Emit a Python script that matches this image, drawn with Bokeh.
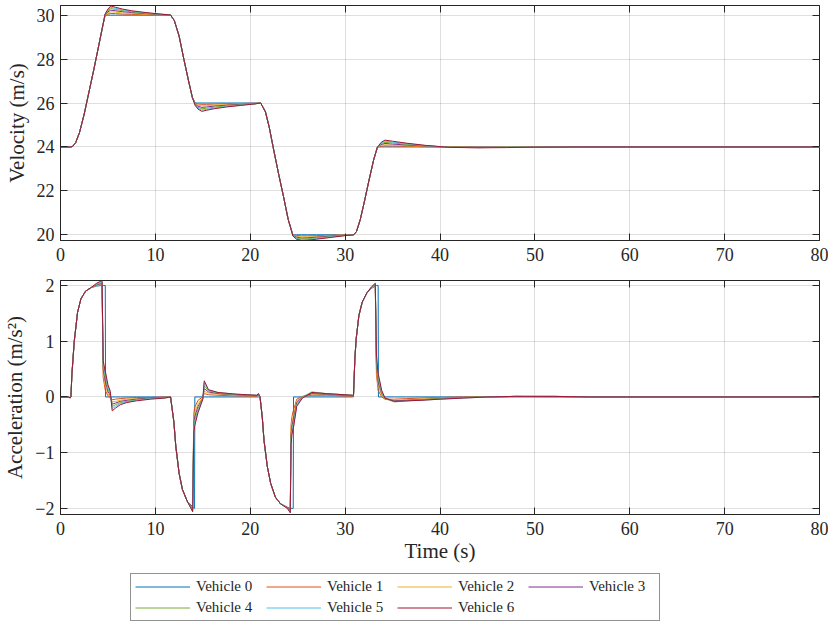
from bokeh.plotting import figure
from bokeh.models import (Legend, LegendItem, LinearAxis, FixedTicker, Range1d,
                          CustomJSTickFormatter)
from bokeh.layouts import column
from bokeh.embed import file_html
from bokeh.resources import INLINE

# ---------------- data ----------------
NAMES = ["Vehicle 0", "Vehicle 1", "Vehicle 2", "Vehicle 3", "Vehicle 4", "Vehicle 5", "Vehicle 6"]
COLORS = ["#0072BD", "#D95319", "#EDB120", "#7E2F8E", "#77AC30", "#4DBEEE", "#A2142F"]

X_TICKS = [0, 10, 20, 30, 40, 50, 60, 70, 80]
V_TICKS = [20, 22, 24, 26, 28, 30]
A_TICKS = [-2, -1, 0, 1, 2]

# time samples for velocity (s)
T_VEL = [0, 1.1, 1.3, 1.6, 2.0, 2.5, 3.0, 3.5, 4.0, 4.4,
         4.7, 5.0, 5.3, 5.8, 6.5, 7.5, 9.0, 10.5, 11.6, 12.0,
         12.5, 13.0, 13.5, 13.9, 14.2, 14.5, 14.9, 15.4, 16.2, 17.5,
         19.0, 20.5, 21.1, 21.6, 22.0, 22.5, 23.0, 23.5, 24.0, 24.5,
         24.9, 25.4, 26.0, 27.0, 28.5, 30.0, 30.9, 31.2, 31.6, 32.0,
         32.5, 33.0, 33.4, 33.8, 34.2, 35.0, 36.5, 38.5, 41.0, 44.0,
         47.0, 50.0, 55.0, 80.0]

V0 = [24.0, 24.0, 24.03, 24.2, 24.65, 25.5, 26.5, 27.5, 28.55, 29.4,
      30.0, 30.0, 30.0, 30.0, 30.0, 30.0, 30.0, 30.0, 30.0, 29.75,
      29.05, 28.0, 27.0, 26.25, 26.0, 26.0, 26.0, 26.0, 26.0, 26.0,
      26.0, 26.0, 26.0, 25.6, 24.9, 23.8, 22.75, 21.75, 20.7, 20.0,
      20.0, 20.0, 20.0, 20.0, 20.0, 20.0, 20.0, 20.15, 20.7, 21.45,
      22.45, 23.4, 24.0, 24.0, 24.0, 24.0, 24.0, 24.0, 24.0, 24.0,
      24.0, 24.0, 24.0, 24.0]
V1 = [24.0, 24.0, 24.03, 24.2, 24.65, 25.5, 26.5, 27.5, 28.55, 29.4,
      29.98, 30.05, 30.08, 30.07, 30.05, 30.04, 30.02, 30.01, 30.0, 29.75,
      29.05, 28.0, 27.0, 26.25, 25.98, 25.95, 25.94, 25.94, 25.95, 25.97,
      25.98, 25.99, 26.0, 25.6, 24.9, 23.8, 22.75, 21.75, 20.7, 19.99,
      19.97, 19.95, 19.95, 19.96, 19.98, 19.99, 20.0, 20.15, 20.7, 21.45,
      22.45, 23.4, 23.99, 24.03, 24.05, 24.04, 24.03, 24.01, 24.0, 23.99,
      23.99, 24.0, 24.0, 24.0]
V2 = [24.0, 24.0, 24.03, 24.2, 24.65, 25.5, 26.5, 27.5, 28.55, 29.4,
      30.0, 30.1, 30.15, 30.14, 30.1, 30.08, 30.04, 30.02, 30.0, 29.75,
      29.05, 28.0, 27.0, 26.25, 25.96, 25.9, 25.87, 25.88, 25.9, 25.93,
      25.96, 25.98, 26.0, 25.6, 24.9, 23.8, 22.75, 21.75, 20.7, 19.98,
      19.93, 19.9, 19.9, 19.92, 19.96, 19.99, 20.0, 20.15, 20.7, 21.45,
      22.45, 23.4, 23.99, 24.07, 24.1, 24.08, 24.06, 24.03, 24.0, 23.98,
      23.99, 24.0, 24.0, 24.0]
V3 = [24.0, 24.0, 24.03, 24.2, 24.65, 25.5, 26.5, 27.5, 28.55, 29.4,
      30.02, 30.15, 30.23, 30.2, 30.16, 30.12, 30.07, 30.03, 30.0, 29.75,
      29.05, 28.0, 27.0, 26.25, 25.94, 25.85, 25.8, 25.82, 25.86, 25.9,
      25.94, 25.97, 26.0, 25.6, 24.9, 23.8, 22.75, 21.75, 20.7, 19.97,
      19.89, 19.85, 19.86, 19.89, 19.94, 19.98, 20.0, 20.15, 20.7, 21.45,
      22.45, 23.4, 23.99, 24.11, 24.16, 24.13, 24.09, 24.04, 23.99, 23.98,
      23.98, 23.99, 24.0, 24.0]
V4 = [24.0, 24.0, 24.03, 24.2, 24.65, 25.5, 26.5, 27.5, 28.55, 29.4,
      30.03, 30.2, 30.3, 30.26, 30.21, 30.15, 30.09, 30.04, 30.01, 29.75,
      29.05, 28.0, 27.0, 26.25, 25.92, 25.8, 25.74, 25.76, 25.81, 25.87,
      25.92, 25.97, 26.0, 25.6, 24.9, 23.8, 22.75, 21.75, 20.7, 19.96,
      19.85, 19.81, 19.82, 19.86, 19.92, 19.97, 20.0, 20.15, 20.7, 21.45,
      22.45, 23.4, 23.98, 24.15, 24.21, 24.18, 24.12, 24.05, 23.99, 23.97,
      23.98, 23.99, 24.0, 24.0]
V5 = [24.0, 24.0, 24.03, 24.2, 24.65, 25.5, 26.5, 27.5, 28.55, 29.4,
      30.04, 30.24, 30.36, 30.31, 30.25, 30.18, 30.1, 30.05, 30.01, 29.75,
      29.05, 28.0, 27.0, 26.25, 25.9, 25.76, 25.68, 25.71, 25.77, 25.84,
      25.9, 25.96, 26.0, 25.6, 24.9, 23.8, 22.75, 21.75, 20.7, 19.95,
      19.82, 19.77, 19.78, 19.83, 19.9, 19.97, 20.0, 20.15, 20.7, 21.45,
      22.45, 23.4, 23.98, 24.18, 24.26, 24.22, 24.15, 24.06, 23.98, 23.97,
      23.98, 23.99, 24.0, 24.0]
V6 = [24.0, 24.0, 24.03, 24.2, 24.65, 25.5, 26.5, 27.5, 28.55, 29.4,
      30.05, 30.28, 30.42, 30.36, 30.28, 30.2, 30.12, 30.05, 30.01, 29.75,
      29.05, 28.0, 27.0, 26.25, 25.88, 25.72, 25.62, 25.67, 25.74, 25.82,
      25.89, 25.96, 26.0, 25.6, 24.9, 23.8, 22.75, 21.75, 20.7, 19.94,
      19.79, 19.74, 19.75, 19.8, 19.88, 19.96, 20.0, 20.15, 20.7, 21.45,
      22.45, 23.4, 23.98, 24.21, 24.31, 24.26, 24.17, 24.07, 23.98, 23.96,
      23.97, 23.99, 24.0, 24.0]

# time samples for acceleration (s)
T_ACC = [0, 0.9, 1.0, 1.1, 1.2, 1.45, 1.8, 2.15, 2.65, 3.2,
         3.8, 4.38, 4.5, 4.72, 4.75, 5.0, 5.25, 5.45, 5.8, 6.3,
         7.0, 8.0, 9.5, 11.0, 11.6, 11.95, 12.15, 12.5, 12.85, 13.35,
         13.93, 14.05, 14.13, 14.16, 14.5, 14.9, 15.0, 15.15, 15.6, 16.6,
         18.5, 20.7, 20.86, 21.03, 21.27, 21.45, 21.8, 22.15, 22.65, 23.2,
         23.9, 24.22, 24.3, 24.4, 24.53, 24.56, 24.9, 25.5, 26.5, 28.0,
         30.8, 30.88, 31.03, 31.17, 31.45, 31.8, 32.3, 32.8, 33.18, 33.3,
         33.48, 33.51, 33.85, 34.2, 35.2, 36.5, 38.0, 40.0, 42.5, 45.0,
         48.0, 52.0, 56.0, 80.0]

A0 = [0, 0, -0.02, 0.0, 0.4, 1.0, 1.52, 1.76, 1.9, 1.96,
      1.99, 2.0, 2.0, 2.0, 0.0, 0, 0, 0, 0, 0,
      0, 0, 0, 0, 0, -0.45, -0.88, -1.37, -1.66, -1.87,
      -1.97, -1.99, -2.0, 0.0, 0, 0, 0, 0, 0, 0,
      0, 0, 0, 0, -0.37, -0.78, -1.25, -1.55, -1.8, -1.92,
      -1.98, -2.0, -2.0, -2.0, -2.0, 0.0, 0, 0, 0, 0,
      0, 0, 0.7, 1.05, 1.46, 1.7, 1.87, 1.95, 1.99, 2.0,
      2.0, 0.0, 0, 0, 0, 0, 0, 0, 0, 0,
      0, 0, 0, 0]
A1 = [0, 0, -0.02, 0.0, 0.4, 1.0, 1.52, 1.76, 1.9, 1.96,
      2.0, 2.01, 0.35, 0.12, 0.11, 0.02, -0.01, -0.05, -0.04, -0.03,
      -0.02, -0.01, -0.01, 0.0, 0.0, -0.45, -0.88, -1.37, -1.66, -1.87,
      -1.99, -0.3, -0.2, -0.18, -0.06, -0.01, 0.0, 0.06, 0.04, 0.03,
      0.02, 0.01, 0.04, 0.0, -0.37, -0.78, -1.25, -1.55, -1.8, -1.92,
      -1.98, -2.01, -0.5, -0.35, -0.25, -0.24, -0.04, 0.01, 0.03, 0.03,
      0.01, 0.01, 0.7, 1.05, 1.46, 1.7, 1.87, 1.96, 2.0, 0.4,
      0.12, 0.11, 0.0, -0.04, -0.04, -0.03, -0.02, -0.01, 0.0, 0.0,
      0.01, 0.0, 0.0, 0.0]
A2 = [0, 0, -0.02, 0.0, 0.4, 1.0, 1.52, 1.76, 1.9, 1.96,
      2.0, 2.02, 0.45, 0.2, 0.19, 0.06, 0.01, -0.09, -0.08, -0.06,
      -0.04, -0.03, -0.02, -0.01, 0.0, -0.45, -0.88, -1.37, -1.66, -1.87,
      -2.0, -0.4, -0.3, -0.28, -0.12, -0.03, -0.01, 0.1, 0.07, 0.05,
      0.03, 0.02, 0.05, 0.0, -0.37, -0.78, -1.25, -1.55, -1.8, -1.92,
      -1.98, -2.03, -0.6, -0.45, -0.34, -0.33, -0.07, 0.01, 0.05, 0.04,
      0.02, 0.02, 0.7, 1.05, 1.46, 1.7, 1.87, 1.96, 2.01, 0.5,
      0.2, 0.19, 0.03, -0.04, -0.06, -0.05, -0.04, -0.02, -0.01, 0.0,
      0.01, 0.0, 0.0, 0.0]
A3 = [0, 0, -0.02, 0.0, 0.4, 1.0, 1.52, 1.76, 1.9, 1.96,
      2.01, 2.04, 0.5, 0.28, 0.27, 0.1, 0.03, -0.13, -0.11, -0.08,
      -0.06, -0.04, -0.02, -0.01, 0.0, -0.45, -0.88, -1.37, -1.66, -1.87,
      -2.02, -0.47, -0.37, -0.35, -0.17, -0.05, -0.02, 0.15, 0.09, 0.06,
      0.04, 0.02, 0.05, 0.0, -0.37, -0.78, -1.25, -1.55, -1.8, -1.92,
      -1.98, -2.04, -0.68, -0.52, -0.41, -0.4, -0.1, 0.0, 0.06, 0.05,
      0.02, 0.02, 0.7, 1.05, 1.46, 1.7, 1.87, 1.97, 2.02, 0.58,
      0.27, 0.26, 0.06, -0.03, -0.07, -0.06, -0.05, -0.03, -0.01, 0.0,
      0.01, 0.01, 0.0, 0.0]
A4 = [0, 0, -0.02, 0.0, 0.4, 1.0, 1.52, 1.76, 1.9, 1.96,
      2.02, 2.05, 0.55, 0.34, 0.33, 0.14, 0.05, -0.17, -0.14, -0.1,
      -0.08, -0.05, -0.03, -0.01, 0.0, -0.45, -0.88, -1.37, -1.66, -1.87,
      -2.03, -0.53, -0.43, -0.41, -0.21, -0.06, -0.03, 0.2, 0.11, 0.07,
      0.04, 0.03, 0.06, 0.0, -0.37, -0.78, -1.25, -1.55, -1.8, -1.92,
      -1.99, -2.05, -0.74, -0.58, -0.47, -0.46, -0.13, 0.0, 0.09, 0.06,
      0.03, 0.03, 0.7, 1.05, 1.46, 1.7, 1.87, 1.97, 2.03, 0.65,
      0.32, 0.31, 0.08, -0.03, -0.09, -0.07, -0.05, -0.03, -0.01, 0.0,
      0.01, 0.01, 0.0, 0.0]
A5 = [0, 0, -0.02, 0.0, 0.4, 1.0, 1.52, 1.76, 1.9, 1.96,
      2.03, 2.07, 0.6, 0.4, 0.39, 0.18, 0.07, -0.21, -0.17, -0.12,
      -0.09, -0.06, -0.03, -0.02, 0.0, -0.45, -0.88, -1.37, -1.66, -1.87,
      -2.05, -0.58, -0.48, -0.46, -0.25, -0.08, -0.03, 0.25, 0.12, 0.08,
      0.05, 0.03, 0.06, 0.0, -0.37, -0.78, -1.25, -1.55, -1.8, -1.92,
      -1.99, -2.07, -0.8, -0.63, -0.52, -0.51, -0.15, -0.01, 0.08, 0.06,
      0.03, 0.03, 0.7, 1.05, 1.46, 1.7, 1.87, 1.98, 2.03, 0.7,
      0.37, 0.36, 0.1, -0.02, -0.08, -0.07, -0.06, -0.04, -0.02, 0.0,
      0.01, 0.01, 0.0, 0.0]
A6 = [0, 0, -0.02, 0.0, 0.4, 1.0, 1.52, 1.76, 1.9, 1.96,
      2.04, 2.09, 0.65, 0.45, 0.44, 0.22, 0.1, -0.25, -0.2, -0.14,
      -0.1, -0.07, -0.04, -0.02, 0.0, -0.45, -0.88, -1.37, -1.66, -1.87,
      -2.06, -0.63, -0.53, -0.51, -0.28, -0.09, -0.04, 0.29, 0.13, 0.08,
      0.05, 0.03, 0.06, 0.0, -0.37, -0.78, -1.25, -1.55, -1.8, -1.92,
      -2.0, -2.08, -0.85, -0.67, -0.56, -0.55, -0.17, -0.02, 0.08, 0.06,
      0.03, 0.03, 0.7, 1.05, 1.46, 1.7, 1.87, 1.98, 2.04, 0.75,
      0.41, 0.4, 0.12, -0.02, -0.08, -0.07, -0.06, -0.04, -0.02, 0.0,
      0.01, 0.01, 0.0, 0.0]

VELS = [V0, V1, V2, V3, V4, V5, V6]
ACCS = [A0, A1, A2, A3, A4, A5, A6]

# ---------------- styling ----------------
FONT = "Liberation Serif"
INK = "#262626"
TICK_FS = "18px"
LABEL_FS = "21px"
FIG_W = 828


def style_axes(p, yticks, ylabel, xlabel=None):
    xa = p.xaxis[0]
    ya = p.yaxis[0]
    xa.ticker = FixedTicker(ticks=X_TICKS)
    ya.ticker = FixedTicker(ticks=yticks)
    for ax in (xa, ya):
        ax.major_tick_in = 7
        ax.major_tick_out = 0
        ax.minor_tick_line_color = None
        ax.axis_line_color = INK
        ax.major_tick_line_color = INK
        ax.major_label_text_font = FONT
        ax.major_label_text_font_size = TICK_FS
        ax.major_label_text_color = INK
        ax.axis_label_text_font = FONT
        ax.axis_label_text_font_size = LABEL_FS
        ax.axis_label_text_font_style = "normal"
        ax.axis_label_text_color = INK
    xa.major_label_standoff = 7
    ya.major_label_standoff = 6
    ya.axis_label = ylabel
    ya.axis_label_standoff = 5
    if xlabel:
        xa.axis_label = xlabel
        xa.axis_label_standoff = 1
    # mirrored ticks on top and right (no labels)
    top = LinearAxis(ticker=FixedTicker(ticks=X_TICKS),
                     formatter=CustomJSTickFormatter(code="return ''"),
                     major_label_text_font_size="0px", major_label_standoff=0,
                     major_tick_in=7, major_tick_out=0,
                     minor_tick_line_color=None, axis_line_color=None,
                     major_tick_line_color=INK)
    right = LinearAxis(ticker=FixedTicker(ticks=yticks),
                       formatter=CustomJSTickFormatter(code="return ''"),
                       major_label_text_font_size="0px", major_label_standoff=0,
                       major_tick_in=7, major_tick_out=0,
                       minor_tick_line_color=None, axis_line_color=None,
                       major_tick_line_color=INK)
    p.add_layout(top, "above")
    p.add_layout(right, "right")
    p.xgrid.grid_line_color = INK
    p.xgrid.grid_line_alpha = 0.15
    p.ygrid.grid_line_color = INK
    p.ygrid.grid_line_alpha = 0.15
    p.outline_line_color = INK
    p.outline_line_width = 1
    p.background_fill_color = "white"
    p.border_fill_color = "white"


p1 = figure(width=FIG_W, height=270, x_range=Range1d(0, 80), y_range=Range1d(19.74, 30.44),
            output_backend="svg", toolbar_location=None,
            min_border_left=52, min_border_right=9, min_border_top=5, min_border_bottom=30)
for i in range(7):
    p1.line(T_VEL, VELS[i], line_color=COLORS[i], line_width=1)
style_axes(p1, V_TICKS, "Velocity (m/s)")

p2 = figure(width=FIG_W, height=295, x_range=Range1d(0, 80), y_range=Range1d(-2.11, 2.09),
            output_backend="svg", toolbar_location=None,
            min_border_left=52, min_border_right=9, min_border_top=10, min_border_bottom=50)
for i in range(7):
    p2.line(T_ACC, ACCS[i], line_color=COLORS[i], line_width=1)
style_axes(p2, A_TICKS, "Acceleration (m/s²)", xlabel="Time (s)")

# legend figure: its lines lie outside its visible range, they only supply legend styles
p3 = figure(width=FIG_W, height=57, x_range=Range1d(100, 101), y_range=Range1d(100, 101),
            output_backend="svg", toolbar_location=None,
            x_axis_location=None, y_axis_location=None,
            min_border_left=52, min_border_right=9, min_border_top=0, min_border_bottom=0)
p3.grid.visible = False
p3.outline_line_color = None
p3.background_fill_color = "white"
p3.border_fill_color = "white"
lrends = [p3.line(T_VEL, VELS[i], line_color=COLORS[i], line_width=1) for i in range(7)]

legend = Legend(items=[LegendItem(label=NAMES[i], renderers=[lrends[i]]) for i in range(7)],
                orientation="horizontal", ncols=4, location=(70, 1),
                label_text_font=FONT, label_text_font_size="15px", label_text_color=INK,
                glyph_width=55, glyph_height=17, label_standoff=6, label_height=17,
                label_width=66, spacing=4, padding=4, margin=0,
                border_line_color=INK, border_line_width=1, background_fill_color="white")
p3.add_layout(legend, "center")

layout = column(p1, p2, p3, spacing=0)
open("out.html", "w").write(file_html(layout, INLINE))
